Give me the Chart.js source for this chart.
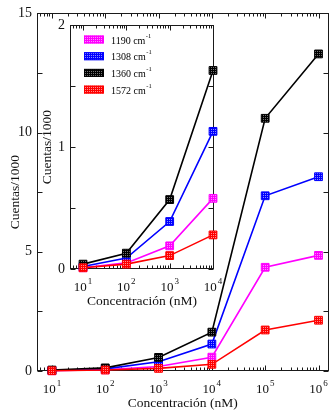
<!DOCTYPE html>
<html>
<head>
<meta charset="utf-8">
<script src="https://cdn.jsdelivr.net/npm/chart.js@4.4.1/dist/chart.umd.min.js"></script>
<style>
  body { margin: 0; background: #fff; }
  #wrap { position: relative; width: 335px; height: 413px; }
  #main { position: absolute; left: 0; top: 0; }
  #inset { position: absolute; left: 38px; top: 12px; }
</style>
</head>
<body>
<div id="wrap">
  <canvas id="main" width="335" height="413"></canvas>
  <canvas id="inset" width="188" height="300"></canvas>
</div>
<script>
// Raman band intensities (counts/1000) vs concentration (nM)
const concentrations = [10, 100, 1000, 10000, 100000, 1000000];
const insetConcentrations = [10, 100, 1000, 10000];
const band1190 = [0.01, 0.05, 0.19, 0.58, 4.35, 4.85];
const band1308 = [0.02, 0.09, 0.39, 1.13, 7.35, 8.15];
const band1360 = [0.04, 0.13, 0.57, 1.63, 10.6, 13.3];
const band1572 = [0.01, 0.04, 0.11, 0.28, 1.72, 2.13];
const bandNames = ['1190', '1308', '1360', '1572'];
const bandColors = ['#ff00ff', '#0000ff', '#000000', '#ff0000'];
const drawOrder = [4, 3, 2, 1];   // red ends up on top
const decadeExponents = ['1', '2', '3', '4', '5', '6'];

const SERIF = '"Liberation Serif", "Times New Roman", serif';

// dotted fill used for markers and legend swatches
function dottedFill(color) {
    const c = document.createElement('canvas');
    c.width = 4; c.height = 4;
    const g = c.getContext('2d');
    g.fillStyle = color;
    g.fillRect(0, 0, 4, 4);
    g.fillStyle = color === '#000000' ? 'rgba(255,255,255,0.45)' : 'rgba(255,255,255,0.55)';
    g.fillRect(1, 1, 1, 1); g.fillRect(3, 1, 1, 1);
    g.fillRect(1, 3, 1, 1); g.fillRect(3, 3, 1, 1);
    return g.createPattern(c, 'repeat');
}

function makeDatasets(xs) {
    return [band1190, band1308, band1360, band1572].map((vals, i) => ({
        label: bandNames[i] + ' cm-1',
        data: xs.map((x, j) => ({ x: x, y: vals[j] })),
        borderColor: bandColors[i],
        borderWidth: 1.6,
        pointStyle: 'rect',
        pointRadius: 5.5,
        pointBorderWidth: 1,
        pointBorderColor: bandColors[i],
        pointBackgroundColor: dottedFill(bandColors[i]),
        order: drawOrder[i],
        clip: false,
        tension: 0
    }));
}

// box frame with inward major/minor ticks on all four sides
const frameTicks = {
    id: 'frameTicks',
    beforeDatasetsDraw(chart) {
        const { ctx, chartArea: a, scales: { x, y } } = chart;
        const L = Math.round(a.left) + 0.5, R = Math.round(a.right) - 0.5;
        const T = Math.round(a.top) + 0.5, B = Math.round(a.bottom) - 0.5;
        ctx.save();
        ctx.strokeStyle = '#1a1a1a';
        ctx.lineWidth = 1;
        ctx.strokeRect(L, T, R - L, B - T);
        ctx.beginPath();
        const lo = Math.floor(Math.log10(x.min)), hi = Math.ceil(Math.log10(x.max));
        for (let d = lo; d <= hi; d++) {
            for (let m = 1; m < 10; m++) {
                const v = m * Math.pow(10, d);
                if (v < x.min || v > x.max) continue;
                const px = Math.round(x.getPixelForValue(v)) + 0.5;
                const len = m === 1 ? 5 : 3;
                ctx.moveTo(px, B); ctx.lineTo(px, B - len);
                ctx.moveTo(px, T); ctx.lineTo(px, T + len);
            }
        }
        y.ticks.forEach(t => {
            const py = Math.round(y.getPixelForValue(t.value)) + 0.5;
            ctx.moveTo(L, py); ctx.lineTo(L + 5, py);
            ctx.moveTo(R, py); ctx.lineTo(R - 5, py);
        });
        ctx.stroke();
        ctx.restore();
    }
};

// "10" with a raised exponent under each decade tick
const decadeLabels = {
    id: 'decadeLabels',
    afterDraw(chart) {
        const { ctx, scales: { x } } = chart;
        ctx.save();
        ctx.fillStyle = '#111';
        ctx.textBaseline = 'alphabetic';
        ctx.textAlign = 'left';
        x.ticks.forEach(t => {
            const exp = decadeExponents[Math.round(Math.log10(t.value)) - 1];
            ctx.font = '13px ' + SERIF;
            const wb = ctx.measureText('10').width;
            ctx.font = '9px ' + SERIF;
            const we = ctx.measureText(exp).width;
            const left = x.getPixelForValue(t.value) - (wb + 1 + we) / 2;
            const base = x.top + 21.5;
            ctx.font = '13px ' + SERIF;
            ctx.fillText('10', left, base);
            ctx.font = '9px ' + SERIF;
            ctx.fillText(exp, left + wb + 1, base - 6.5);
        });
        ctx.restore();
    }
};

// legend box inside the inset, "cm" with a raised -1
const bandLegend = {
    id: 'bandLegend',
    afterDraw(chart) {
        const ctx = chart.ctx;
        ctx.save();
        bandNames.forEach((name, i) => {
            const cy = 27.5 + i * 16.7;
            ctx.fillStyle = dottedFill(bandColors[i]);
            ctx.fillRect(46, cy - 4, 20, 8);
            ctx.strokeStyle = bandColors[i];
            ctx.lineWidth = 1;
            ctx.strokeRect(46.5, cy - 3.5, 19, 7);
            ctx.fillStyle = '#000';
            ctx.textBaseline = 'middle';
            ctx.font = '10px ' + SERIF;
            const txt = name + ' cm';
            ctx.fillText(txt, 73, cy + 1.5);
            const w = ctx.measureText(txt).width;
            ctx.font = '6.5px ' + SERIF;
            ctx.fillText('-1', 73 + w + 0.5, cy - 3.5);
        });
        ctx.restore();
    }
};

function axisOptions(cfg) {
    return {
        x: {
            type: 'logarithmic',
            min: cfg.xMin,
            max: cfg.xMax,
            afterBuildTicks: s => { s.ticks = cfg.xs.map(v => ({ value: v })); },
            afterFit: s => { s.height = cfg.xHeight; },
            grid: { display: false, drawTicks: false },
            border: { display: false },
            ticks: { display: false, autoSkip: false, maxRotation: 0 },
            title: {
                display: true,
                text: 'Concentración (nM)',
                color: '#111',
                font: { family: SERIF, size: 13.5, lineHeight: 1.2 },
                padding: { top: 0, bottom: cfg.titleBottom }
            }
        },
        y: {
            min: 0,
            max: cfg.yMax,
            afterFit: s => { s.width = cfg.yWidth; },
            grid: { display: false, drawTicks: false },
            border: { display: false },
            ticks: {
                stepSize: cfg.yStep,
                padding: 5,
                color: '#111',
                font: { family: SERIF, size: 14 },
                callback: v => (Math.abs(v / cfg.yLabelEvery - Math.round(v / cfg.yLabelEvery)) < 1e-6 ? v : '')
            },
            title: {
                display: true,
                text: 'Cuentas/1000',
                color: '#111',
                font: { family: SERIF, size: 13.5, lineHeight: 1.2 },
                padding: { top: cfg.titleLeft, bottom: 0 }
            }
        }
    };
}

new Chart(document.getElementById('main'), {
    type: 'line',
    data: { datasets: makeDatasets(concentrations) },
    options: {
        responsive: false,
        animation: false,
        layout: { padding: { top: 8, right: 5, left: 0, bottom: 0 } },
        plugins: { legend: { display: false }, tooltip: { enabled: false } },
        scales: axisOptions({
            xs: concentrations, xMin: 5.25, xMax: 1.54e6, xHeight: 42, titleBottom: 1,
            yMax: 15, yStep: 2.5, yLabelEvery: 5, yWidth: 37, titleLeft: 7
        })
    },
    plugins: [frameTicks, decadeLabels]
});

new Chart(document.getElementById('inset'), {
    type: 'line',
    data: { datasets: makeDatasets(insetConcentrations) },
    options: {
        responsive: false,
        animation: false,
        layout: { padding: { top: 8, right: 12, left: 0, bottom: 0 } },
        plugins: { legend: { display: false }, tooltip: { enabled: false } },
        scales: axisOptions({
            xs: insetConcentrations, xMin: 5.0, xMax: 10540, xHeight: 43, titleBottom: 2,
            yMax: 2, yStep: 0.5, yLabelEvery: 1, yWidth: 32, titleLeft: 1
        })
    },
    plugins: [frameTicks, decadeLabels, bandLegend]
});
</script>
</body>
</html>
